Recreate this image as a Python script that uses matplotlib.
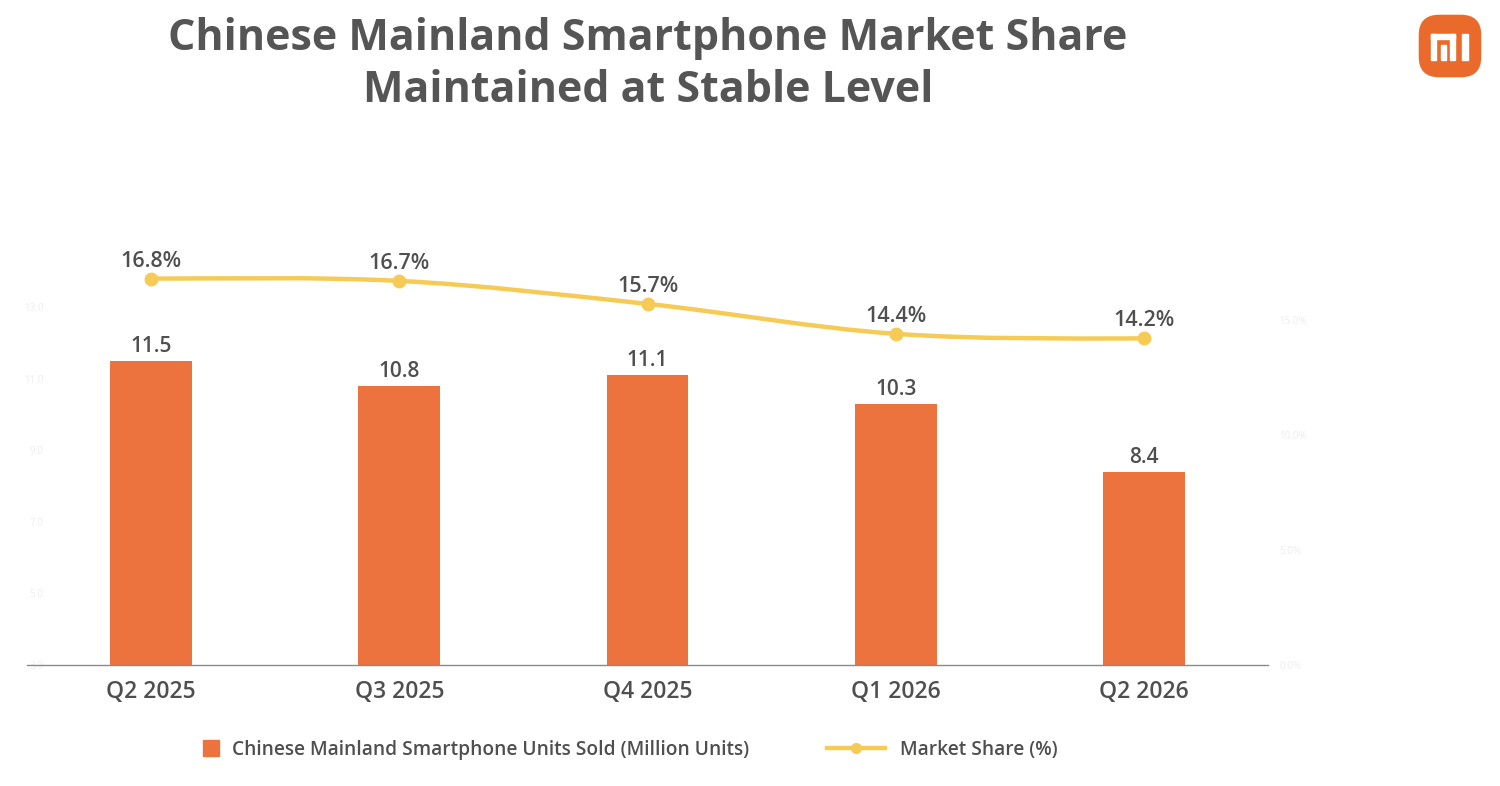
import matplotlib
matplotlib.use("Agg")
import matplotlib.pyplot as plt
from matplotlib.path import Path
from matplotlib.patches import PathPatch, FancyBboxPatch, Rectangle
from matplotlib.lines import Line2D

plt.rcParams['font.family'] = ['Open Sans', 'DejaVu Sans']

quarters = ['Q2 2025', 'Q3 2025', 'Q4 2025', 'Q1 2026', 'Q2 2026']
units = [11.5, 10.8, 11.1, 10.3, 8.4]
share = [16.8, 16.7, 15.7, 14.4, 14.2]
left_ticks = [3.0, 5.0, 7.0, 9.0, 11.0, 13.0]
right_ticks = [0, 5, 10, 15]

bar_color = '#EC733E'
line_color = '#F5CB55'
text_color = '#4F4F4F'

W, H = 1500, 786
fig = plt.figure(figsize=(15, 7.86), dpi=100)
ax = fig.add_axes([27 / W, 1 - 665 / H, (1268 - 27) / W, (665 - 205) / H])
ax2 = ax.twinx()

x = list(range(len(quarters)))
ax.bar(x, units, width=0.33, color=bar_color, zorder=2)
for xi, v in zip(x, units):
    ax.annotate(f'{v:.1f}', (xi, v), xytext=(0, 3), textcoords='offset points',
                ha='center', va='bottom', fontsize=15, color=text_color, fontweight='semibold')

ax.set_xlim(-0.5, 4.5)
ax.set_ylim(3.0, 15.85)
ax.set_yticks(left_ticks)
ax.set_yticklabels([f'{t:.1f}' for t in left_ticks], fontsize=7, color='#EDEDED')
ax.tick_params(axis='y', length=0, pad=-12)
ax.set_xticks(x)
ax.set_xticklabels(quarters, fontsize=16.5, color=text_color, fontweight='semibold')
ax.tick_params(axis='x', length=0, pad=11)
for s in ['top', 'right', 'left']:
    ax.spines[s].set_visible(False)
ax.spines['bottom'].set_color('#8A8A8A')
ax.spines['bottom'].set_linewidth(1.0)

# smooth line through the share points (bezier path in data coords)
ax2.set_ylim(0, 20)
n = len(share)
tang = []
for i in range(n):
    if i == 0 or i == n - 1:
        tang.append(0.0)
    else:
        tang.append((share[i + 1] - share[i - 1]) / 2)
verts = [(x[0], share[0])]
codes = [Path.MOVETO]
for i in range(n - 1):
    verts += [(x[i] + 1 / 3, share[i] + tang[i] / 3),
              (x[i + 1] - 1 / 3, share[i + 1] - tang[i + 1] / 3),
              (x[i + 1], share[i + 1])]
    codes += [Path.CURVE4] * 3
ax2.add_patch(PathPatch(Path(verts, codes), fill=False, edgecolor=line_color, lw=3.2, zorder=3))
ax2.plot(x, share, 'o', color=line_color, markersize=9, zorder=4)
for xi, v in zip(x, share):
    ax2.annotate(f'{v:.1f}%', (xi, v), xytext=(0, 5), textcoords='offset points',
                 ha='center', va='bottom', fontsize=15.5, color=text_color, fontweight='semibold')
ax2.set_yticks(right_ticks)
ax2.set_yticklabels([f'{t:.1f}%' for t in right_ticks], fontsize=7, color='#EDEDED')
ax2.tick_params(axis='y', length=0, pad=8)
for s in ['top', 'right', 'left', 'bottom']:
    ax2.spines[s].set_visible(False)

fig.text(648 / W, 1 - 38 / H, 'Chinese Mainland Smartphone Market Share', ha='center', va='center',
         fontsize=31, fontweight='bold', color='#555555')
fig.text(648 / W, 1 - 90 / H, 'Maintained at Stable Level', ha='center', va='center',
         fontsize=31, fontweight='bold', color='#555555')

# legends
h1 = Line2D([], [], marker='s', color=bar_color, linestyle='none', markersize=12)
h2 = Line2D([], [], marker='o', color=line_color, lw=3.2, markersize=7)
fig.legend([h1], ['Chinese Mainland Smartphone Units Sold (Million Units)'],
           loc='center left', bbox_to_anchor=(184 / W, 1 - 750 / H), frameon=False,
           handlelength=1.0, handletextpad=0.6, labelcolor=text_color,
           prop={'weight': 'semibold', 'size': 13.8})
fig.legend([h2], ['Market Share (%)'], loc='center left', bbox_to_anchor=(810 / W, 1 - 750 / H),
           frameon=False, handlelength=3.0, handletextpad=0.8, labelcolor=text_color,
           prop={'weight': 'semibold', 'size': 13.8})

# logo
lax = fig.add_axes([1416 / W, 1 - 80 / H, 68 / W, 68 / H])
lax.set_xlim(0, 1)
lax.set_ylim(0, 1)
lax.axis('off')
lax.add_patch(FancyBboxPatch((0.04, 0.04), 0.92, 0.92, boxstyle='round,pad=0,rounding_size=0.3',
                             facecolor='#E96A2B', edgecolor='none'))
lax.add_patch(Rectangle((0.22, 0.30), 0.08, 0.38, color='white'))
lax.add_patch(Rectangle((0.22, 0.60), 0.36, 0.08, color='white'))
lax.add_patch(Rectangle((0.50, 0.30), 0.08, 0.38, color='white'))
lax.add_patch(Rectangle((0.37, 0.30), 0.07, 0.22, color='white'))
lax.add_patch(Rectangle((0.68, 0.30), 0.08, 0.38, color='white'))

fig.savefig('out.png', dpi=100, facecolor='white')
